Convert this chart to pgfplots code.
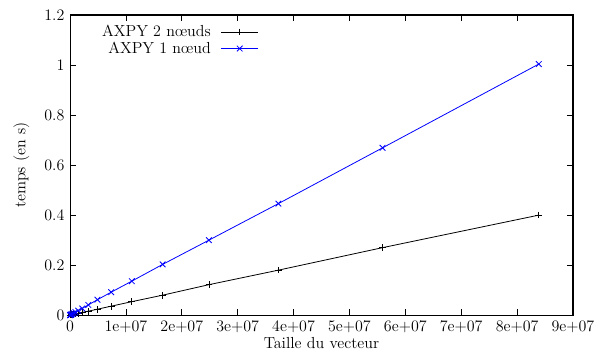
\documentclass[border=0pt,12pt]{standalone}
\usepackage{pgfplots}
\pgfplotsset{compat=1.18}
\pgfplotstableread{
n         t
83886080  0.400
55924053  0.270
37282702  0.180
24855135  0.122
16570090  0.080
11046727  0.054
7364484   0.036
4909656   0.024
3273104   0.016
2182069   0.011
1454713   0.0072
969809    0.0048
646539    0.0032
431026    0.0022
287351    0.0015
191567    0.0010
127711    0.0007
85141     0.0005
56760     0.0003
37840     0.0002
25227     0.0001
16818     0.0001
}\deuxnoeuds
\pgfplotstableread{
n         t
83886080  1.004
55924053  0.669
37282702  0.446
24855135  0.300
16570090  0.203
11046727  0.136
7364484   0.092
4909656   0.062
3273104   0.041
2182069   0.027
1454713   0.018
969809    0.012
646539    0.0080
431026    0.0053
287351    0.0036
191567    0.0024
127711    0.0016
85141     0.0011
56760     0.0007
37840     0.0005
25227     0.0003
16818     0.0002
}\unnoeud
\begin{document}
\begin{tikzpicture}
\begin{axis}[
  scale only axis,
  width=377pt, height=225pt,
  xmin=0, xmax=9e7, ymin=0, ymax=1.2,
  xtick={0,1e7,2e7,3e7,4e7,5e7,6e7,7e7,8e7,9e7},
  xticklabels={0,1e+07,2e+07,3e+07,4e+07,5e+07,6e+07,7e+07,8e+07,9e+07},
  ytick={0,0.2,0.4,0.6,0.8,1,1.2},
  yticklabels={0,0.2,0.4,0.6,0.8,1,1.2},
  scaled x ticks=false,
  tick align=inside, tick pos=both,
  major tick length=4.5pt,
  axis line style={line width=0.8pt},
  tick style={line width=0.6pt, black},
  xlabel={Taille du vecteur},
  ylabel={temps (en s)},
  xlabel style={yshift=5pt},
  ylabel style={yshift=3pt},
  legend style={draw=none, fill=none, at={(0.05,0.985)}, anchor=north west,
    row sep=-2pt},
  legend cell align=right,
  legend plot pos=right,
  legend image code/.code={
    \path (0cm,0cm);
    \draw[mark repeat=2,mark phase=2] plot coordinates {(0.2cm,0cm) (0.68cm,0cm) (1.16cm,0cm)};
  },
]
\coordinate (ll) at (rel axis cs:0,0);
\coordinate (ur) at (rel axis cs:1,1);
\addplot[black, line width=0.6pt, mark=+, mark size=2.5pt, mark options={line width=0.6pt}] table[x=n,y=t] {\deuxnoeuds};
\addlegendentry{AXPY 2 n\oe uds}
\addplot[blue, line width=0.6pt, mark=x, mark size=3pt, mark options={line width=0.6pt}] table[x=n,y=t] {\unnoeud};
\addlegendentry{AXPY 1 n\oe ud}
\end{axis}
\pgfresetboundingbox
\path[use as bounding box] ([shift={(-52.5pt,-32.25pt)}]ll) rectangle ([shift={(21pt,11.25pt)}]ur);
\end{tikzpicture}
\end{document}
